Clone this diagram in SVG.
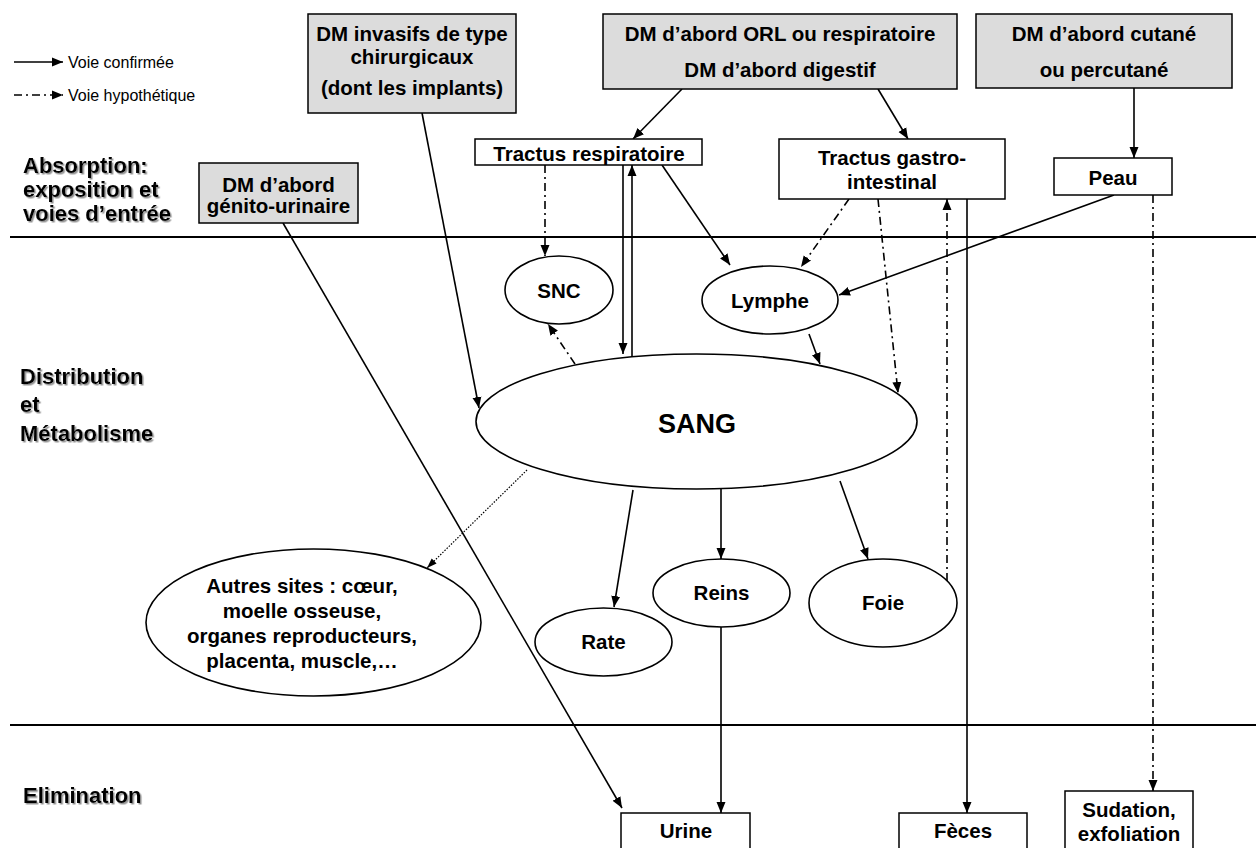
<svg xmlns="http://www.w3.org/2000/svg" width="1256" height="848" viewBox="0 0 1256 848">
<style>
text{font-family:"Liberation Sans",Arial,Helvetica,sans-serif;fill:#000}
.t{font-weight:bold;font-size:20.5px;text-anchor:middle}
.sec{font-weight:bold;font-size:22px;filter:url(#sh)}
.leg{font-size:16px}
.gray{fill:#dcdcdc;stroke:#000;stroke-width:1.5}
.box{fill:#fff;stroke:#000;stroke-width:1.5}
.ell{fill:#fff;stroke:#000;stroke-width:1.6}
.c{fill:none;stroke:#000;stroke-width:1.6}
.s{marker-end:url(#ah)}
.d{stroke-dasharray:8 4 2 4;marker-end:url(#ah)}
.o{stroke-width:1.2;stroke-dasharray:1.5 1.5;marker-end:url(#ahs)}
.sep{stroke:#000;stroke-width:2}
</style>
<defs>
<marker id="ah" markerUnits="userSpaceOnUse" markerWidth="12" markerHeight="10" refX="11" refY="5" orient="auto"><path d="M0,0.5 L11,5 L0,9.5 z" fill="#000"/></marker>
<marker id="ahs" markerUnits="userSpaceOnUse" markerWidth="11" markerHeight="9" refX="10" refY="4" orient="auto"><path d="M0,0.5 L10,4 L0,7.5 z" fill="#000"/></marker>
<filter id="sh" x="-10%" y="-20%" width="120%" height="150%"><feDropShadow dx="1.5" dy="1.5" stdDeviation="0.6" flood-color="#888" flood-opacity="0.9"/></filter>
</defs>
<rect width="1256" height="848" fill="#fff"/>

<g id="legend">
<line class="c s" x1="14" y1="62" x2="63" y2="62"/>
<text class="leg" x="68" y="68">Voie confirmée</text>
<line class="c d" x1="14" y1="95" x2="63" y2="95"/>
<text class="leg" x="68" y="101">Voie hypothétique</text>
</g>

<g id="sections">
<line class="sep" x1="10" y1="237" x2="1256" y2="237"/>
<line class="sep" x1="10" y1="725" x2="1256" y2="725"/>
<text class="sec" x="23" y="173">Absorption:</text>
<text class="sec" x="23" y="197">exposition et</text>
<text class="sec" x="23" y="221">voies d’entrée</text>
<text class="sec" x="20" y="384">Distribution</text>
<text class="sec" x="20" y="412">et</text>
<text class="sec" x="20" y="441">Métabolisme</text>
<text class="sec" x="23" y="803">Elimination</text>
</g>

<g id="connectors">
<line class="c s" x1="422" y1="113" x2="479" y2="408"/>
<line class="c s" x1="682" y1="89" x2="633" y2="139"/>
<line class="c s" x1="878" y1="89" x2="908" y2="139"/>
<line class="c s" x1="1134" y1="88" x2="1134" y2="158"/>
<line class="c s" x1="623" y1="165" x2="623" y2="354"/>
<line class="c s" x1="632" y1="356" x2="632" y2="165"/>
<line class="c s" x1="662" y1="165" x2="730" y2="265"/>
<line class="c s" x1="1114" y1="195" x2="839" y2="295"/>
<line class="c s" x1="809" y1="334" x2="820" y2="364"/>
<line class="c s" x1="967" y1="199" x2="967" y2="813"/>
<line class="c s" x1="283" y1="223" x2="622" y2="808"/>
<line class="c s" x1="721" y1="627" x2="721" y2="813"/>
<line class="c s" x1="633" y1="490" x2="614" y2="607"/>
<line class="c s" x1="721" y1="489" x2="721" y2="559"/>
<line class="c s" x1="840" y1="481" x2="868" y2="559"/>
<line class="c d" x1="545" y1="165" x2="545" y2="256"/>
<line class="c d" x1="575" y1="364" x2="548" y2="324"/>
<line class="c d" x1="849" y1="199" x2="801" y2="267"/>
<line class="c d" x1="878" y1="199" x2="898" y2="393"/>
<line class="c d" x1="947" y1="581" x2="947" y2="199"/>
<line class="c d" x1="1153" y1="195" x2="1153" y2="791"/>
<line class="c o" x1="527" y1="470" x2="427" y2="568"/>
</g>

<g id="dm-invasifs">
<rect class="gray" x="308" y="14" width="208" height="99"/>
<text class="t" x="412" y="41">DM invasifs de type</text>
<text class="t" x="412" y="64">chirurgicaux</text>
<text class="t" x="412" y="95">(dont les implants)</text>
</g>
<g id="dm-orl">
<rect class="gray" x="603" y="14" width="354" height="75"/>
<text class="t" x="780" y="41">DM d’abord ORL ou respiratoire</text>
<text class="t" x="780" y="77">DM d’abord digestif</text>
</g>
<g id="dm-cutane">
<rect class="gray" x="976" y="14" width="256" height="74"/>
<text class="t" x="1104" y="41">DM d’abord cutané</text>
<text class="t" x="1104" y="77">ou percutané</text>
</g>
<g id="dm-genito">
<rect class="gray" x="199" y="163" width="159" height="60"/>
<text class="t" x="278.5" y="192">DM d’abord</text>
<text class="t" x="278.5" y="213">génito-urinaire</text>
</g>
<g id="tractus-resp">
<rect class="box" x="475" y="139" width="227" height="26"/>
<text class="t" x="589" y="161">Tractus respiratoire</text>
</g>
<g id="tractus-gi">
<rect class="box" x="779" y="139" width="226" height="60"/>
<text class="t" x="892" y="165">Tractus gastro-</text>
<text class="t" x="892" y="189">intestinal</text>
</g>
<g id="peau">
<rect class="box" x="1054" y="158" width="118" height="37"/>
<text class="t" x="1113" y="185">Peau</text>
</g>
<g id="snc">
<ellipse class="ell" cx="559" cy="290" rx="54" ry="34"/>
<text class="t" x="559" y="298">SNC</text>
</g>
<g id="lymphe">
<ellipse class="ell" cx="770" cy="300" rx="68" ry="34"/>
<text class="t" x="770" y="308">Lymphe</text>
</g>
<g id="sang">
<ellipse class="ell" cx="696.5" cy="421.5" rx="220.5" ry="67.5"/>
<text class="t" x="697" y="433" style="font-size:27px">SANG</text>
</g>
<g id="autres">
<ellipse class="ell" cx="313.5" cy="622.5" rx="167.5" ry="73.5"/>
<text class="t" x="302" y="593">Autres sites : cœur,</text>
<text class="t" x="302" y="618">moelle osseuse,</text>
<text class="t" x="302" y="643">organes reproducteurs,</text>
<text class="t" x="302" y="668">placenta, muscle,…</text>
</g>
<g id="rate">
<ellipse class="ell" cx="603.5" cy="642" rx="68.5" ry="34"/>
<text class="t" x="603.5" y="649">Rate</text>
</g>
<g id="reins">
<ellipse class="ell" cx="721.5" cy="593" rx="68.5" ry="34"/>
<text class="t" x="721.5" y="600">Reins</text>
</g>
<g id="foie">
<ellipse class="ell" cx="883" cy="603" rx="74" ry="44"/>
<text class="t" x="883" y="610">Foie</text>
</g>
<g id="urine">
<rect class="box" x="621" y="813" width="129" height="50"/>
<text class="t" x="686" y="838">Urine</text>
</g>
<g id="feces">
<rect class="box" x="899" y="813" width="128" height="50"/>
<text class="t" x="963" y="838">Fèces</text>
</g>
<g id="sudation">
<rect class="box" x="1065" y="791" width="128" height="70"/>
<text class="t" x="1129" y="817">Sudation,</text>
<text class="t" x="1129" y="841">exfoliation</text>
</g>
</svg>
